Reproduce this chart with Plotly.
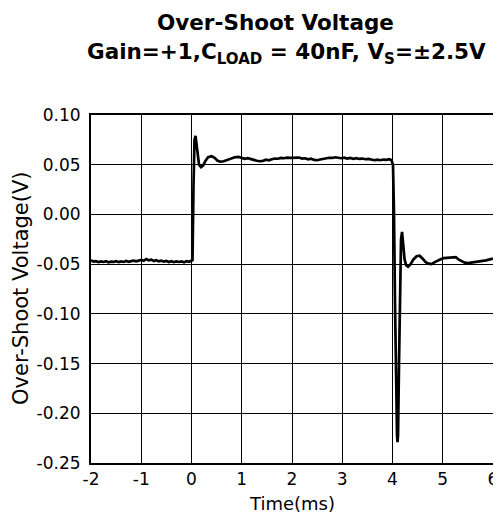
import plotly.graph_objects as go

# Time (ms) and over-shoot voltage (V)
time_ms = [
    -2.00, -1.95, -1.90, -1.85, -1.80, -1.75, -1.70, -1.65, -1.60, -1.55,
    -1.50, -1.45, -1.40, -1.35, -1.30, -1.25, -1.20, -1.15, -1.10, -1.05,
    -1.00, -0.95, -0.90, -0.85, -0.80, -0.75, -0.70, -0.65, -0.60, -0.55,
    -0.50, -0.45, -0.40, -0.35, -0.30, -0.25, -0.20, -0.15, -0.10, -0.05,
    0.00, 0.02, 0.04, 0.06, 0.08, 0.10, 0.12, 0.15, 0.19, 0.23,
    0.28, 0.33, 0.40, 0.46, 0.52, 0.58, 0.64, 0.70, 0.78, 0.86,
    0.94, 1.00, 1.06, 1.12, 1.18, 1.24, 1.30, 1.36, 1.42, 1.48,
    1.54, 1.60, 1.66, 1.72, 1.78, 1.84, 1.90, 1.96, 2.02, 2.08,
    2.14, 2.20, 2.26, 2.32, 2.38, 2.44, 2.50, 2.56, 2.62, 2.68,
    2.74, 2.80, 2.86, 2.92, 2.98, 3.04, 3.10, 3.16, 3.22, 3.28,
    3.34, 3.40, 3.46, 3.52, 3.58, 3.64, 3.70, 3.76, 3.82, 3.88,
    3.94, 3.98, 4.01, 4.03, 4.05, 4.07, 4.09, 4.10, 4.11, 4.13,
    4.15, 4.17, 4.19, 4.21, 4.24, 4.27, 4.31, 4.36, 4.42, 4.48,
    4.54, 4.60, 4.66, 4.72, 4.78, 4.84, 4.90, 4.96, 5.02, 5.08,
    5.14, 5.20, 5.26, 5.32, 5.38, 5.44, 5.50, 5.56, 5.62, 5.68,
    5.74, 5.80, 5.86, 5.92, 5.98, 6.00,
]
voltage_v = [
    -0.0460, -0.0475, -0.0470, -0.0480, -0.0472, -0.0478, -0.0470, -0.0482, -0.0475, -0.0478,
    -0.0470, -0.0480, -0.0472, -0.0478, -0.0468, -0.0476, -0.0470, -0.0465, -0.0472, -0.0462,
    -0.0458, -0.0466, -0.0448, -0.0462, -0.0455, -0.0468, -0.0460, -0.0472, -0.0465, -0.0475,
    -0.0468, -0.0478, -0.0470, -0.0480, -0.0472, -0.0478, -0.0472, -0.0482, -0.0470, -0.0476,
    -0.0470, -0.0460, 0.0300, 0.0750, 0.0790, 0.0720, 0.0600, 0.0500, 0.0475, 0.0490,
    0.0540, 0.0575, 0.0585, 0.0570, 0.0540, 0.0530, 0.0535, 0.0545, 0.0560, 0.0575,
    0.0578, 0.0570, 0.0560, 0.0565, 0.0555, 0.0545, 0.0540, 0.0535, 0.0538, 0.0550,
    0.0545, 0.0555, 0.0562, 0.0560, 0.0568, 0.0565, 0.0572, 0.0568, 0.0570, 0.0565,
    0.0572, 0.0562, 0.0565, 0.0555, 0.0560, 0.0548, 0.0545, 0.0552, 0.0558, 0.0565,
    0.0570, 0.0568, 0.0575, 0.0570, 0.0565, 0.0570, 0.0562, 0.0568, 0.0560, 0.0565,
    0.0558, 0.0562, 0.0555, 0.0558, 0.0552, 0.0545, 0.0550, 0.0545, 0.0552, 0.0548,
    0.0555, 0.0545, 0.0500, 0.0000, -0.0900, -0.1700, -0.2220, -0.2290, -0.2220, -0.1500,
    -0.0700, -0.0250, -0.0175, -0.0280, -0.0450, -0.0510, -0.0525, -0.0500, -0.0450, -0.0420,
    -0.0415, -0.0445, -0.0480, -0.0495, -0.0500, -0.0480, -0.0462, -0.0450, -0.0440, -0.0436,
    -0.0432, -0.0428, -0.0430, -0.0455, -0.0470, -0.0485, -0.0490, -0.0486, -0.0482, -0.0480,
    -0.0475, -0.0470, -0.0462, -0.0455, -0.0448, -0.0445,
]

x_ticks = [-2, -1, 0, 1, 2, 3, 4, 5, 6]
x_tick_labels = ["-2", "-1", "0", "1", "2", "3", "4", "5", "6"]
y_ticks = [0.10, 0.05, 0.00, -0.05, -0.10, -0.15, -0.20, -0.25]
y_tick_labels = ["0.10", "0.05", "0.00", "-0.05", "-0.10", "-0.15", "-0.20", "-0.25"]

title_line1 = "Over-Shoot Voltage"
title_line2 = "Gain=+1,C<sub>LOAD</sub> = 40nF, V<sub>S</sub>=±2.5V"
x_title = "Time(ms)"
y_title = "Over-Shoot Voltage(V)"

FONT = "DejaVu Sans, Liberation Sans, Arial, sans-serif"

# The page body has an 8px margin, so the figure sits at (8, 8) in the window.
OFF = 8
W, H = 501 - OFF, 526 - OFF
# plot area in window pixels: left 91, right 493, top 115, bottom 463
ML, MR, MT, MB = 91 - OFF, 501 - 493, 115 - OFF, 526 - 463
PW, PH = W - ML - MR, H - MT - MB


def px_x(px):
    """window pixel x -> paper fraction"""
    return (px - OFF - ML) / PW


def px_y(py):
    """window pixel y -> paper fraction"""
    return (H - MB - (py - OFF)) / PH


fig = go.Figure()
fig.add_trace(go.Scatter(
    x=time_ms, y=voltage_v, mode="lines",
    line=dict(color="black", width=2.7),
    showlegend=False, hoverinfo="skip",
))

fig.update_layout(
    width=W, height=H,
    margin=dict(l=ML, r=MR, t=MT, b=MB),
    paper_bgcolor="white", plot_bgcolor="white",
    font=dict(family=FONT, color="black"),
    annotations=[
        dict(text="<b>" + title_line1 + "</b>", x=px_x(275), y=px_y(22),
             xref="paper", yref="paper", showarrow=False,
             font=dict(size=21.5, family=FONT, color="black"),
             xanchor="center", yanchor="middle"),
        dict(text="<b>" + title_line2 + "</b>", x=px_x(286), y=px_y(53),
             xref="paper", yref="paper", showarrow=False,
             font=dict(size=21.5, family=FONT, color="black"),
             xanchor="center", yanchor="middle"),
        dict(text=x_title, x=px_x(292), y=px_y(503),
             xref="paper", yref="paper", showarrow=False,
             font=dict(size=18, family=FONT, color="black"),
             xanchor="center", yanchor="middle"),
        dict(text=y_title, x=px_x(21), y=px_y(288), textangle=-90,
             xref="paper", yref="paper", showarrow=False, borderpad=0,
             font=dict(size=21, family=FONT, color="black"),
             xanchor="center", yanchor="middle"),
    ],
)

fig.update_xaxes(
    range=[-2, 6], tickvals=x_ticks, ticktext=x_tick_labels,
    showgrid=True, gridcolor="black", gridwidth=1,
    showline=True, linecolor="black", linewidth=2, mirror=True,
    ticks="", zeroline=False, automargin=False,
    tickfont=dict(size=17, family=FONT),
)
fig.update_yaxes(
    range=[-0.25, 0.10], tickvals=y_ticks, ticktext=y_tick_labels,
    showgrid=True, gridcolor="black", gridwidth=1,
    showline=True, linecolor="black", linewidth=2, mirror=True,
    ticks="", zeroline=False, automargin=False, ticklabelstandoff=5,
    tickfont=dict(size=17, family=FONT),
)

fig.write_html("out.html")
